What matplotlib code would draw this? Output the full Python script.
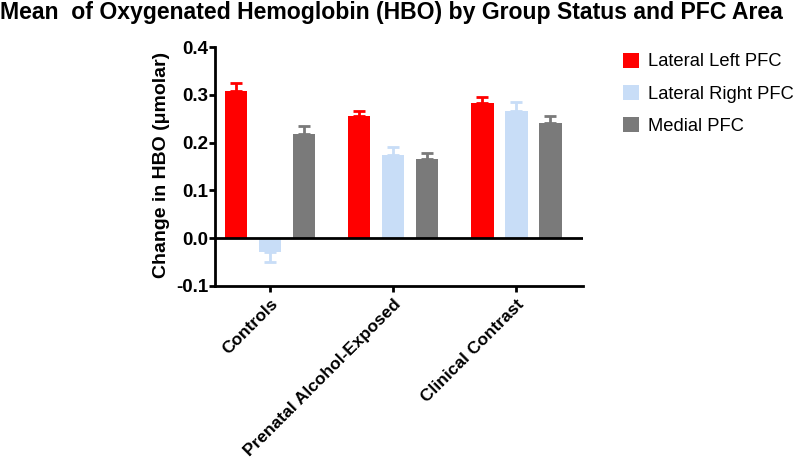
import matplotlib
matplotlib.use("Agg")
import matplotlib.pyplot as plt
import numpy as np
from matplotlib.patches import Patch

plt.rcParams['font.family'] = ['Liberation Sans', 'DejaVu Sans']

groups = ["Controls", "Prenatal Alcohol-Exposed", "Clinical Contrast"]
series = ["Lateral Left PFC", "Lateral Right PFC", "Medial PFC"]
lateral_left = [0.308, 0.255, 0.282]
lateral_right = [-0.029, 0.174, 0.267]
medial = [0.217, 0.166, 0.240]
err_left = [0.016, 0.011, 0.013]
err_right = [0.020, 0.016, 0.018]
err_medial = [0.017, 0.013, 0.015]
colors = ["#FF0000", "#C8DDF7", "#7A7A7A"]

fig = plt.figure(figsize=(8, 4.59), dpi=100)
ax = fig.add_axes([215/800, 1-286/459, (583-215)/800, (286-47)/459])

x = np.arange(len(groups))
offs = [-0.276, 0.0, 0.276]
width = 0.18
vals = [lateral_left, lateral_right, medial]
errs = [err_left, err_right, err_medial]
for i in range(3):
    v = np.array(vals[i]); e = np.array(errs[i])
    ax.bar(x + offs[i], v, width=width, color=colors[i], zorder=2)
    lower = np.where(v < 0, e, 0)
    upper = np.where(v >= 0, e, 0)
    ax.errorbar(x + offs[i], v, yerr=[lower, upper], fmt='none', ecolor=colors[i],
                elinewidth=2, capsize=4, capthick=2, zorder=3)

ax.set_xlim(-0.446, 2.54)
ax.set_ylim(-0.1, 0.4)
ax.axhline(0, color='black', lw=2, zorder=4)
for s in ['top', 'right']:
    ax.spines[s].set_visible(False)
ax.spines['left'].set_linewidth(2)
ax.spines['bottom'].set_linewidth(2)
ax.set_yticks([-0.1, 0.0, 0.1, 0.2, 0.3, 0.4])
ax.set_yticklabels(["-0.1", "0.0", "0.1", "0.2", "0.3", "0.4"], fontsize=13.5, fontweight='bold')
ax.set_xticks(x)
ax.set_xticklabels(groups, rotation=45, ha='right', rotation_mode='anchor', fontsize=12.5, fontweight='bold')
ax.tick_params(axis='both', width=2, length=4)
ax.tick_params(axis='y', pad=1)
ax.set_ylabel("Change in HBO (μmolar)", fontsize=14, fontweight='bold')
ax.yaxis.set_label_coords(-0.122, 0.508)

handles = [Patch(facecolor=c, edgecolor='none') for c in colors]
fig.legend(handles, series, loc='upper left', bbox_to_anchor=(606/800, 1-36/459),
           frameon=False, fontsize=13.2, handlelength=0.9, handleheight=0.9,
           labelspacing=0.78, handletextpad=0.5)

fig.text(0.0, 1-12/459, "Mean  of Oxygenated Hemoglobin (HBO) by Group Status and PFC Area",
         fontsize=16.6, fontweight='bold', ha='left', va='center')

fig.savefig("out.png", dpi=100)
